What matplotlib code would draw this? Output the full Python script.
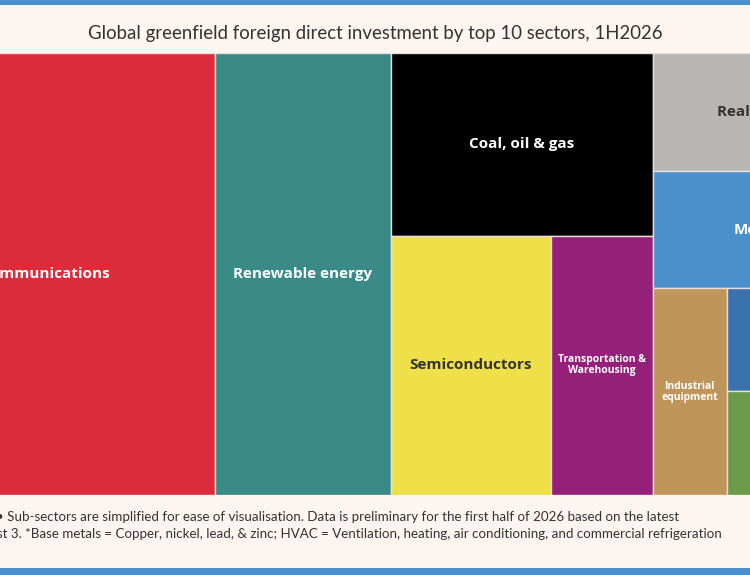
import matplotlib
matplotlib.use("Agg")
import matplotlib.pyplot as plt
from matplotlib.patches import Rectangle

sectors = ["Communications", "Renewable energy", "Coal, oil & gas", "Semiconductors",
           "Transportation &\nWarehousing", "Real estate", "Metals", "Industrial\nequipment",
           "Base metals*", "HVAC*"]
values = [150.3, 77.8, 47.9, 41.4, 26.4, 25.3, 25.0, 15.3, 14.4, 14.6]
colors = ["#dc2b3b", "#3a8a88", "#000000", "#efe04a", "#94207a", "#b8b6b4",
          "#4a90cc", "#c0955a", "#3a72b0", "#6a9a4a"]
text_colors = ["white", "white", "white", "#333333", "white", "#333333",
               "white", "white", "white", "white"]
font_sizes = [11, 11, 11, 11, 7.5, 11, 11, 7.5, 8, 8]
tree = [0, 1, [2, [3, 4]], [5, 6, [7, [8, 9]]]]

BG = "#fdf5f0"
fig = plt.figure(figsize=(7.5, 5.75), dpi=100, facecolor=BG)

def total(node):
    return values[node] if isinstance(node, int) else sum(total(n) for n in node)

H = 442.0
W = total(tree) * 1000 / H

left_px, top_px, bot_px = -125, 53, 495
ax = fig.add_axes([left_px / 750, 1 - bot_px / 575, W / 750, (bot_px - top_px) / 575])
ax.set_xlim(0, W)
ax.set_ylim(H, 0)
ax.axis("off")

def layout(node, x, y, w, h, horiz):
    if isinstance(node, int):
        ax.add_patch(Rectangle((x, y), w, h, facecolor=colors[node],
                               edgecolor="#e6ded8", linewidth=1.0))
        ax.text(x + w / 2, y + h / 2, sectors[node], ha="center", va="center",
                color=text_colors[node], fontsize=font_sizes[node],
                fontweight="bold", family="Open Sans", linespacing=1.0,
                clip_on=True)
        return
    s = total(node)
    pos = 0.0
    for child in node:
        frac = total(child) / s
        if horiz:
            layout(child, x + pos * w, y, w * frac, h, not horiz)
        else:
            layout(child, x, y + pos * h, w, h * frac, not horiz)
        pos += frac

layout(tree, 0, 0, W, H, True)

fig.add_artist(Rectangle((0, 1 - 5 / 575), 1, 5 / 575, transform=fig.transFigure,
                         facecolor="#4a90d0", edgecolor="none"))
fig.add_artist(Rectangle((0, 0), 1, 7 / 575, transform=fig.transFigure,
                         facecolor="#4a90d0", edgecolor="none"))

fig.text(375 / 750, 1 - 33 / 575,
         "Global greenfield foreign direct investment by top 10 sectors, 1H2026",
         ha="center", va="center", fontsize=13.4, color="#333333", family="Lato")
fig.text(-4 / 750, 1 - 517 / 575,
         "• Sub-sectors are simplified for ease of visualisation. Data is preliminary for the first half of 2026 based on the latest",
         ha="left", va="center", fontsize=9.65, color="#333333", family="Lato")
fig.text(-34 / 750, 1 - 534 / 575,
         "August 3. *Base metals = Copper, nickel, lead, & zinc; HVAC = Ventilation, heating, air conditioning, and commercial refrigeration",
         ha="left", va="center", fontsize=9.65, color="#333333", family="Lato")

fig.savefig("out.png", dpi=100, facecolor=BG)
